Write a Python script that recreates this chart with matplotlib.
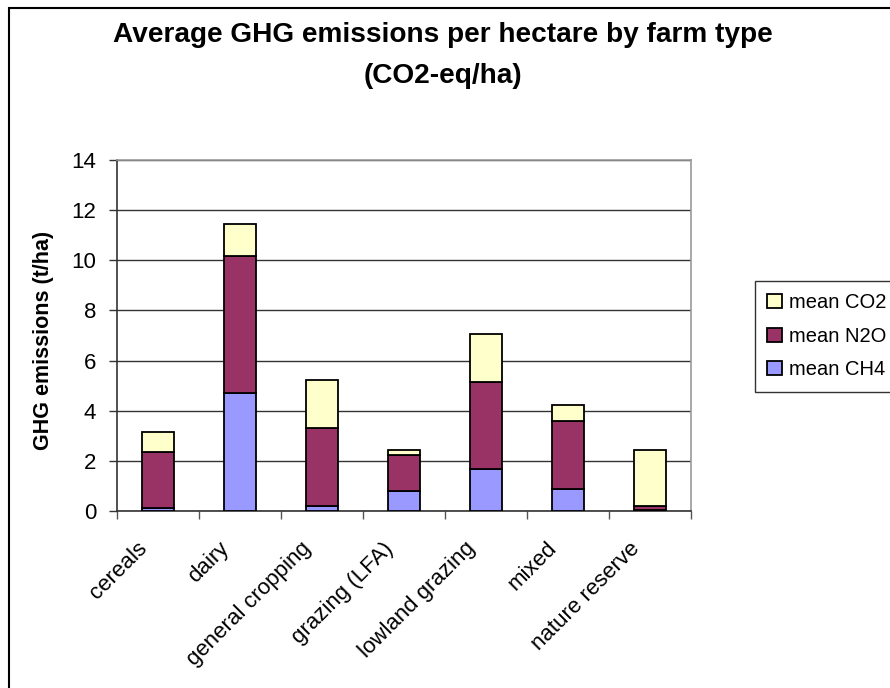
import matplotlib
matplotlib.use("Agg")
import matplotlib.pyplot as plt
from matplotlib.patches import Rectangle
import numpy as np

plt.rcParams['font.family'] = ['Liberation Sans', 'DejaVu Sans']

categories = ["cereals", "dairy", "general cropping", "grazing (LFA)",
              "lowland grazing", "mixed", "nature reserve"]
ch4 = [0.13, 4.71, 0.19, 0.81, 1.67, 0.89, 0.02]
n2o = [2.24, 5.45, 3.12, 1.43, 3.48, 2.68, 0.17]
co2 = [0.79, 1.28, 1.90, 0.21, 1.90, 0.66, 2.26]
series_labels = ["mean CO2", "mean N2O", "mean CH4"]
yticks = [0, 2, 4, 6, 8, 10, 12, 14]

col_ch4 = "#9999FF"
col_n2o = "#993366"
col_co2 = "#FFFFCC"

W, H = 890, 688
fig = plt.figure(figsize=(W / 100, H / 100), dpi=100)
ax = fig.add_axes([117 / W, 1 - 511 / H, (691 - 117) / W, (511 - 160) / H])

x = np.arange(len(categories))
w = 0.39
kw = dict(width=w, edgecolor="black", linewidth=1.3, zorder=3)
b_ch4 = ax.bar(x, ch4, color=col_ch4, **kw)
b_n2o = ax.bar(x, n2o, bottom=ch4, color=col_n2o, **kw)
bottom2 = np.array(ch4) + np.array(n2o)
b_co2 = ax.bar(x, co2, bottom=bottom2, color=col_co2, **kw)

ax.set_xlim(-0.5, len(categories) - 0.5)
ax.set_ylim(0, 14)
ax.set_yticks(yticks)
ax.set_yticklabels([str(v) for v in yticks], fontsize=16)
ax.yaxis.grid(True, color="#333333", linewidth=1.0, zorder=0)
ax.set_axisbelow(True)

# category ticks sit on the boundaries between bars
ax.set_xticks(np.arange(-0.5, len(categories), 1.0))
ax.set_xticklabels([])
ax.tick_params(axis="x", direction="out", length=6, width=1, color="#555555")
ax.tick_params(axis="y", direction="out", length=6, width=1, color="#333333",
               pad=9)
for i, lab in enumerate(categories):
    ax.text(i - 0.26, -1.08, lab, rotation=45, rotation_mode="anchor",
            ha="right", va="top", fontsize=16, transform=ax.transData,
            clip_on=False)

for side in ["top", "right"]:
    ax.spines[side].set_color("#999999")
    ax.spines[side].set_linewidth(1.2)
for side in ["left", "bottom"]:
    ax.spines[side].set_color("#333333")
    ax.spines[side].set_linewidth(1.2)

fig.text(44 / W, 1 - 340 / H, "GHG emissions (t/ha)", rotation=90,
         ha="center", va="center", fontsize=15.5, fontweight="bold")

fig.text(0.498, 1 - 35 / H, "Average GHG emissions per hectare by farm type",
         ha="center", va="center", fontsize=20.2, fontweight="bold")
fig.text(0.498, 1 - 76 / H, "(CO2-eq/ha)",
         ha="center", va="center", fontsize=20.2, fontweight="bold")

leg = fig.legend([b_co2, b_n2o, b_ch4], series_labels,
                 loc="upper left", bbox_to_anchor=(755 / W, 1 - 281 / H),
                 fontsize=14.5, frameon=True, fancybox=False, edgecolor="black",
                 handlelength=0.7, handleheight=0.7, handletextpad=0.35,
                 labelspacing=0.72, borderpad=0.62, borderaxespad=0)
leg.get_frame().set_linewidth(1.0)

# chart-area frame around the whole figure
fig.patches.append(Rectangle((9 / W, -0.1), 1.2, 1 - 8 / H + 0.1,
                             transform=fig.transFigure, fill=False,
                             edgecolor="black", linewidth=1.5))

fig.savefig("out.png", dpi=100)
